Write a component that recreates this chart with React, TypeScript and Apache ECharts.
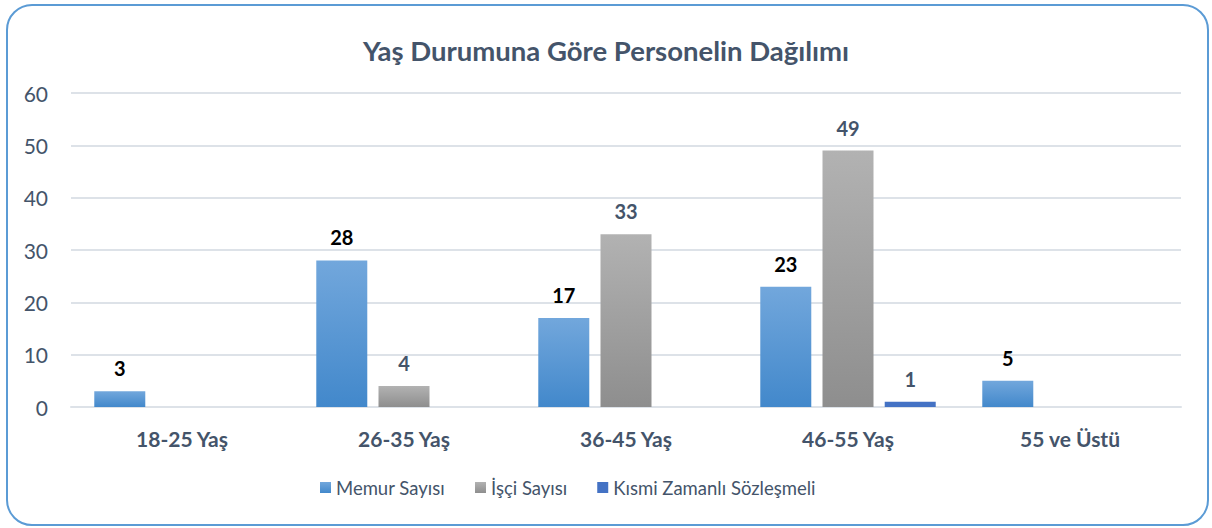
import React, { useEffect, useRef } from "react";
import * as echarts from "echarts";

const categories = ["18-25 Yaş", "26-35 Yaş", "36-45 Yaş", "46-55 Yaş", "55 ve Üstü"];
const memur = [3, 28, 17, 23, 5];
const isci = [null, 4, 33, 49, null];
const kismi = [null, null, null, 1, null];
const yTicks = [0, 10, 20, 30, 40, 50, 60];

const FONT = "Lato";
const SLATE = "#44546a";

export default function App() {
  const ref = useRef<HTMLDivElement>(null);
  useEffect(() => {
    if (!ref.current) return;
    const chart = echarts.init(ref.current, undefined, { renderer: "svg" });
    const lbl = (color: string) => ({
      show: true,
      position: "top",
      distance: 13,
      color,
      fontFamily: FONT,
      fontWeight: "bold",
      fontSize: 20,
    });
    chart.setOption({
      animation: false,
      backgroundColor: "#ffffff",
      title: {
        text: "Yaş Durumuna Göre Personelin Dağılımı",
        left: "center",
        top: 31,
        textStyle: { fontFamily: FONT, fontWeight: "bold", fontSize: 27.5, color: SLATE },
      },
      graphic: [
        {
          type: "rect",
          shape: { x: 7, y: 5, width: 1201, height: 520, r: 25 },
          style: { fill: "none", stroke: "#5b9bd5", lineWidth: 2 },
          silent: true,
        },
      ],
      legend: {
        bottom: 26,
        left: 315,
        itemWidth: 11,
        itemHeight: 11,
        itemGap: 30,
        icon: "rect",
        textStyle: { fontFamily: FONT, fontSize: 18.5, color: SLATE },
        data: ["Memur Sayısı", "İşçi Sayısı", "Kısmi Zamanlı Sözleşmeli"],
      },
      grid: { left: 71, right: 31, top: 93, bottom: 121, containLabel: false },
      xAxis: {
        type: "category",
        data: categories,
        axisTick: { show: false },
        axisLine: { lineStyle: { color: "#dde2e8", width: 2 } },
        axisLabel: {
          fontFamily: FONT,
          fontWeight: "bold",
          fontSize: 21,
          color: SLATE,
          margin: 21,
        },
      },
      yAxis: {
        type: "value",
        min: yTicks[0],
        max: yTicks[yTicks.length - 1],
        interval: 10,
        axisLine: { show: false },
        axisTick: { show: false },
        splitLine: { lineStyle: { color: "#dde2e8", width: 2 } },
        axisLabel: { fontFamily: FONT, fontSize: 21, color: SLATE, margin: 23 },
      },
      series: [
        {
          name: "Memur Sayısı",
          type: "bar",
          data: memur,
          barWidth: 51,
          barGap: "22%",
          itemStyle: {
            color: new echarts.graphic.LinearGradient(0, 0, 0, 1, [
              { offset: 0, color: "#72a7dc" },
              { offset: 1, color: "#4288cb" },
            ]),
          },
          label: lbl("#000000"),
        },
        {
          name: "İşçi Sayısı",
          type: "bar",
          data: isci,
          barWidth: 51,
          barGap: "22%",
          itemStyle: {
            color: new echarts.graphic.LinearGradient(0, 0, 0, 1, [
              { offset: 0, color: "#b2b2b2" },
              { offset: 1, color: "#8e8e8e" },
            ]),
          },
          label: lbl(SLATE),
        },
        {
          name: "Kısmi Zamanlı Sözleşmeli",
          type: "bar",
          data: kismi,
          barWidth: 51,
          barGap: "22%",
          itemStyle: { color: "#4472c4" },
          label: lbl(SLATE),
        },
      ],
    });
    return () => chart.dispose();
  }, []);
  return (
    <div
      ref={ref}
      style={{ position: "absolute", left: 0, top: 0, width: 1212, height: 528 }}
    />
  );
}
